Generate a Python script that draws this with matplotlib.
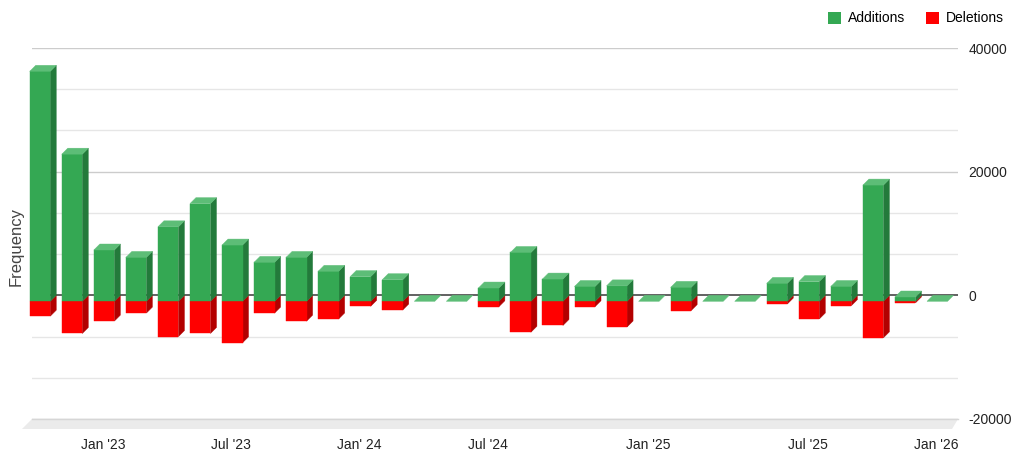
import matplotlib
matplotlib.use("Agg")
import matplotlib.pyplot as plt
from matplotlib.patches import Polygon, Patch
from matplotlib.transforms import ScaledTranslation
import numpy as np

plt.rcParams['font.family'] = ['Liberation Sans', 'DejaVu Sans']

# ---- data ----
additions = [37200, 23800, 8300, 7100, 12050, 15800, 9100, 6300, 7100, 4850,
             4000, 3500, 0, 0, 2150, 7900, 3600, 2400, 2500, 0,
             2260, 0, 0, 2900, 3200, 2400, 18800, 700, 0]
deletions = [2400, 5200, 3200, 1900, 5700, 5200, 6700, 1900, 3200, 2850,
             800, 1400, 0, 0, 870, 5000, 3900, 870, 4150, 0,
             1500, 0, 0, 440, 2850, 700, 5900, 250, 0]
tick_index = [2, 6, 10, 14, 19, 24, 28]
tick_labels = ["Jan '23", "Jul '23", "Jan' 24", "Jul '24", "Jan '25", "Jul '25", "Jan '26"]
y_ticks = [-20000, 0, 20000, 40000]
y_minor = [-40000 / 3, -20000 / 3, 20000 / 3, 40000 / 3, 80000 / 3, 100000 / 3]

# ---- styling ----
G_FRONT, G_SIDE, G_TOP = '#34a853', '#237a3b', '#5dbd77'
R_FRONT, R_SIDE = '#ff0000', '#b30000'
DEPTH = 6      # px, bar depth offset
FLOOR = 10     # px, floor depth

W, H = 1024, 470
fig = plt.figure(figsize=(W / 100, H / 100), dpi=100)
ax = fig.add_axes([32 / W, 51 / H, (958 - 32) / W, (419 - 48) / H])
ax.set_xlim(-0.437, 28.46)
ax.set_ylim(-20000, 40000)
for s in ax.spines.values():
    s.set_visible(False)
ax.patch.set_visible(False)

# pixel -> data conversions
p0 = ax.transData.transform((0, 0))
p1 = ax.transData.transform((1, 1000))
ppx = p1[0] - p0[0]
ppy = (p1[1] - p0[1]) / 1000.0
dx, dy = DEPTH / ppx, DEPTH / ppy
fdx, fdy = FLOOR / ppx, FLOOR / ppy

# gridlines on back plane
for v in y_minor:
    ax.axhline(v, color='#e6e6e6', lw=1.0, zorder=1)
for v in y_ticks:
    if v == 0:
        continue
    ax.axhline(v, color='#cccccc', lw=1.0, zorder=1)
ax.axhline(0, color='#555555', lw=1.3, zorder=2)

# floor
x0, x1 = ax.get_xlim()
y0 = ax.get_ylim()[0]
floor = Polygon([(x0, y0), (x1, y0), (x1 - fdx * 0.6, y0 - fdy), (x0 - fdx, y0 - fdy)],
                closed=True, facecolor='#ebebeb', edgecolor='none', clip_on=False, zorder=1)
ax.add_patch(floor)
ax.plot([x0, x1], [y0, y0], color='#d6d6d6', lw=1.0, clip_on=False, zorder=1.5)

bw = 20.5 / ppx


def face(pts, color, z):
    ax.add_patch(Polygon(pts, closed=True, facecolor=color, edgecolor=color,
                         lw=0.3, clip_on=False, zorder=z))


for i, (a, d) in enumerate(zip(additions, deletions)):
    L = i - bw / 2 - dx
    R = i + bw / 2 - dx
    fz = -dy            # front zero
    # red (deletions) part
    if d > 0:
        face([(R, fz), (R + dx, 0), (R + dx, -d), (R, fz - d)], R_SIDE, 3)
        face([(L, fz), (R, fz), (R, fz - d), (L, fz - d)], R_FRONT, 3)
    # green (additions) part
    if a > 0:
        face([(R, fz), (R + dx, 0), (R + dx, a), (R, fz + a)], G_SIDE, 3)
        face([(L, fz), (R, fz), (R, fz + a), (L, fz + a)], G_FRONT, 3)
    face([(L, fz + a), (R, fz + a), (R + dx, a), (L + dx, a)], G_TOP, 3)

# axes ticks
ax.yaxis.tick_right()
ax.set_yticks(y_ticks)
ax.set_yticklabels([str(v) for v in y_ticks])
ax.tick_params(axis='y', length=0, pad=7.5, labelsize=10, labelcolor='#222222')
ax.set_xticks(tick_index)
ax.set_xticklabels(tick_labels)
ax.tick_params(axis='x', length=0, pad=14, labelsize=10, labelcolor='#222222')
shift = ScaledTranslation(-(DEPTH + 1) / 100, 0, fig.dpi_scale_trans)
for lbl in ax.get_xticklabels():
    lbl.set_transform(lbl.get_transform() + shift)

fig.text(16 / W, 1 - 246 / H, 'Frequency', rotation=90, ha='center', va='center',
         fontsize=12, color='#444444')

handles = [Patch(facecolor=G_FRONT, edgecolor='none', label='Additions'),
           Patch(facecolor=R_FRONT, edgecolor='none', label='Deletions')]
fig.legend(handles=handles, loc='upper right', bbox_to_anchor=(1004 / W, 1 - 11.5 / H),
           ncol=2, frameon=False, fontsize=10, handlelength=0.95, handleheight=0.95,
           handletextpad=0.5, columnspacing=1.5, borderaxespad=0, borderpad=0)

fig.savefig('out.png', dpi=100)
